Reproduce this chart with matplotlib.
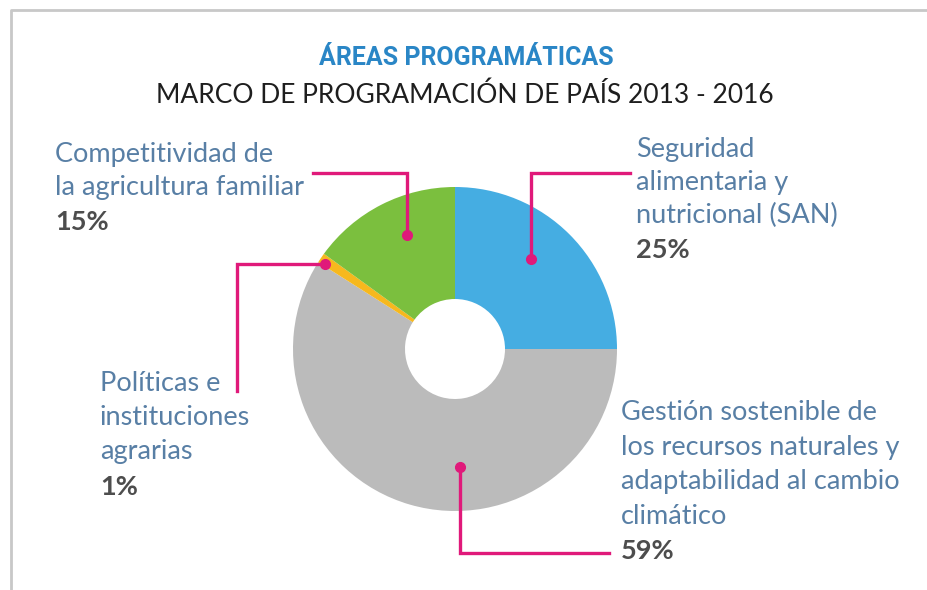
import matplotlib
matplotlib.use("Agg")
import matplotlib.pyplot as plt

W, H = 927, 590

labels = [["Seguridad", "alimentaria y", "nutricional (SAN)"],
          ["Gestión sostenible de", "los recursos naturales y",
           "adaptabilidad al cambio", "climático"],
          ["Políticas e", "instituciones", "agrarias"],
          ["Competitividad de", "la agricultura familiar"]]
shares = [25, 59, 1, 15]
colors = ["#45ade2", "#bbbbbb", "#f6b81e", "#7bbf3e"]

title = "ÁREAS PROGRAMÁTICAS"
subtitle = "MARCO DE PROGRAMACIÓN DE PAÍS 2013 - 2016"

pink = "#e0197a"
label_col = "#587fa5"
pct_col = "#4d4d4d"

fig = plt.figure(figsize=(W / 100, H / 100), dpi=100)
ax = fig.add_axes([0, 0, 1, 1])

# y axis is flipped below, so counterclock here turns clockwise on screen
ax.pie(shares, colors=colors, startangle=270, counterclock=True,
       center=(455, 349), radius=162,
       wedgeprops=dict(width=112, linewidth=0))

ax.set_xlim(0, W)
ax.set_ylim(H, 0)
ax.axis("off")

# frame of the panel
ax.plot([11, 11, W], [H, 10, 10], color="#c8c8c8", lw=2, solid_capstyle="butt")

ax.text(466, 58, title, ha="center", va="center", fontsize=18, color="#2a86c6",
        fontweight="bold", fontstretch="condensed",
        family=["Roboto", "DejaVu Sans"])
ax.text(465, 95, subtitle, ha="center", va="center", fontsize=19, color="#1e1e1e",
        family=["Lato", "DejaVu Sans"])

fs = 19.5
font = ["Lato", "DejaVu Sans"]

# label blocks: (x, first baseline, line step, percent baseline)
blocks = [(636, 157, 33, 258), (621, 420, 34.5, 559),
          (100, 391, 34, 495), (55, 162, 33, 230)]
for (x, y0, step, yp), lines, v in zip(blocks, labels, shares):
    for i, line in enumerate(lines):
        ax.text(x, y0 + i * step, line, fontsize=fs, color=label_col,
                family=font, va="baseline", ha="left")
    ax.text(x, yp, f"{v}%", fontsize=fs, color=pct_col, family=font,
            va="baseline", ha="left", fontweight="bold")

# leader lines
leaders = [
    ([531, 531, 630], [259, 173, 173]),
    ([460, 460, 609], [467, 553, 553]),
    ([325, 237, 237], [264, 264, 391]),
    ([407, 407, 313], [235, 173, 173]),
]
for xs, ys in leaders:
    ax.plot(xs, ys, color=pink, lw=2.4, solid_joinstyle="miter")
    ax.plot(xs[0], ys[0], "o", color=pink, ms=7)

fig.savefig("out.png", dpi=100)
